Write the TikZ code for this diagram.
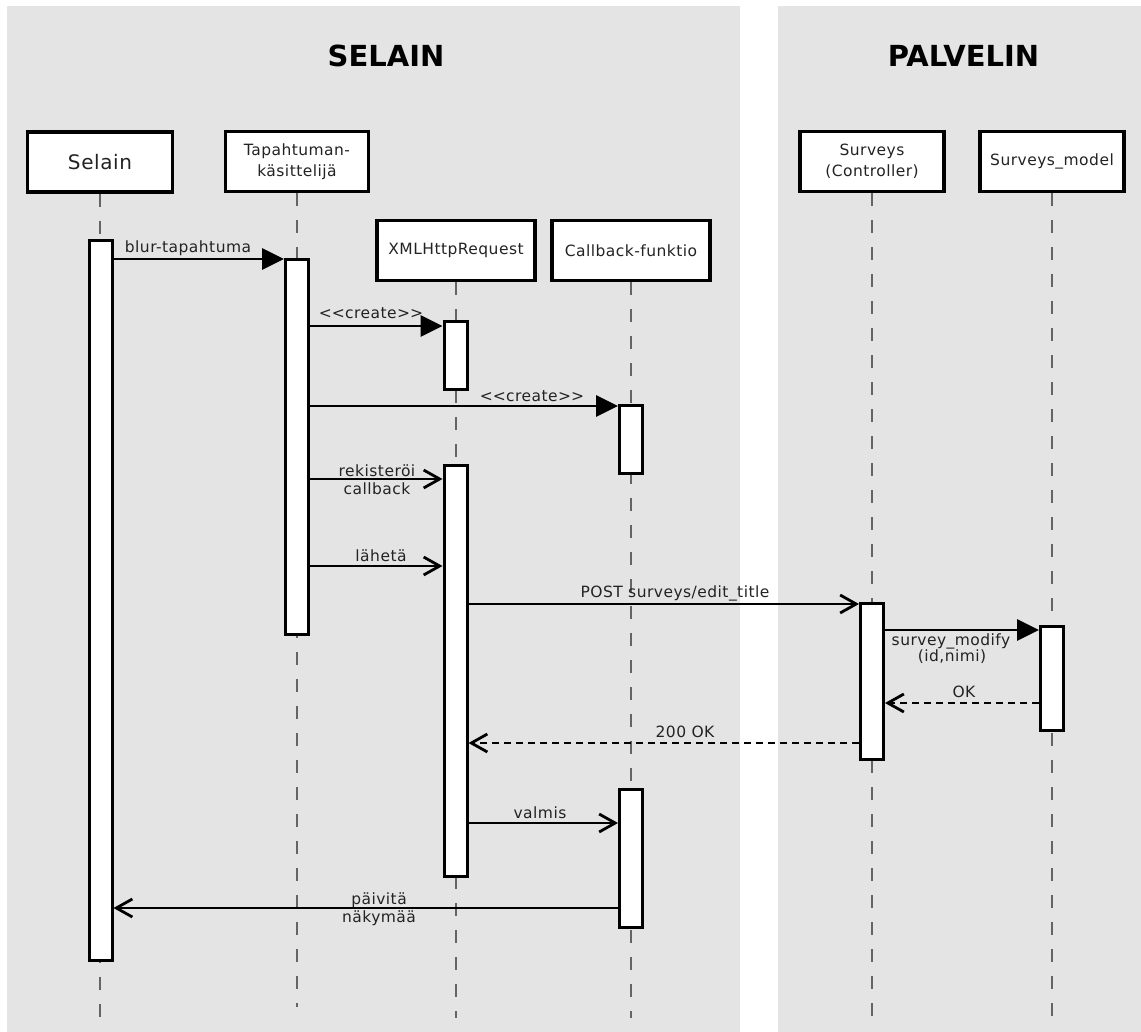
\documentclass[tikz,border=0pt]{standalone}
\usepackage{fontspec}
\setmainfont{DejaVu Sans}
\newfontfamily\lblfont{DejaVu Sans}[LetterSpace=3]
\usetikzlibrary{arrows.meta}
\definecolor{bg}{RGB}{228,228,228}
\definecolor{lifegray}{RGB}{100,100,100}
\definecolor{txt}{RGB}{35,35,35}
\begin{document}
\begin{tikzpicture}[x=1bp,y=-1bp,
 head/.style={draw=black, line width=3.4bp, fill=white, minimum height=60bp, align=center,
   font=\lblfont\fontsize{15.5bp}{21bp}\selectfont, text=txt, inner sep=0pt},
 act/.style={draw=black, line width=3bp, fill=white, minimum width=23bp, inner sep=0pt},
 life/.style={draw=lifegray, line width=2bp, dash pattern=on 13bp off 14bp},
 call/.style={line width=2.8bp, -{Triangle[length=22bp,width=21bp]}},
 msg/.style={line width=2.8bp, -{Straight Barb[length=16bp,width=18bp,line width=2.8bp]}},
 ret/.style={msg, dash pattern=on 7bp off 5bp},
 lbl/.style={font=\lblfont\fontsize{15.5bp}{18bp}\selectfont, text=txt, inner sep=0pt, anchor=base},
 ttl/.style={font=\bfseries\fontsize{29bp}{34bp}\selectfont, text=black, inner sep=0pt, anchor=base}]
\fill[white] (0,0) rectangle (1141,1032);
\useasboundingbox (0,0) rectangle (1141,1032);
\fill[bg] (7,6) rectangle (740,1032);
\fill[bg] (778,6) rectangle (1141,1032);
\node[ttl] (tsel) at (386,66) {SELAIN};
\node[ttl] (tpal) at (963.5,66) {PALVELIN};
% heads
\node[head, minimum width=145bp, font=\lblfont\fontsize{20bp}{21bp}\selectfont] (selain) at (100,162) {Selain};
\node[head, minimum width=143bp] (tap) at (297,161.5) {Tapahtuman-\\käsittelijä};
\node[head, minimum width=158bp] (xhr) at (456,250.5) {XMLHttpRequest};
\node[head, minimum width=158bp] (cb) at (631,250.5) {Callback-funktio};
\node[head, minimum width=144bp] (srv) at (872,161.5) {Surveys\\(Controller)};
\node[head, minimum width=144bp] (mod) at (1052,161.5) {Surveys\_model};
% lifeline ends
\coordinate (selainE) at (100,1018);
\coordinate (tapE) at (297,1007);
\coordinate (xhrE) at (456,1018);
\coordinate (cbE) at (631,1018);
\coordinate (srvE) at (872,1018);
\coordinate (modE) at (1052,1018);
\draw[life] (selain.south) -- (selainE);
\draw[life] (tap.south) -- (tapE);
\draw[life] (xhr.south) -- (xhrE);
\draw[life] (cb.south) -- (cbE);
\draw[life] (srv.south) -- (srvE);
\draw[life] (mod.south) -- (modE);
% activation bars
\node[act, minimum height=720bp] (selB) at (100.5,600) {};
\node[act, minimum height=375bp] (tapB) at (297,446.5) {};
\node[act, minimum height=68bp] (xhrB1) at (455.5,355) {};
\node[act, minimum height=68bp] (cbB1) at (631,439) {};
\node[act, minimum height=411bp] (xhrB2) at (455.5,670.5) {};
\node[act, minimum height=138bp] (cbB2) at (631,858) {};
\node[act, minimum height=156bp] (srvB) at (872,681) {};
\node[act, minimum height=104bp] (modB) at (1052,678) {};
% messages
\draw[call] (selB.east |- 0,259) -- (tapB.west |- 0,259);
\draw[call] (tapB.east |- 0,326) -- (xhrB1.west |- 0,326);
\draw[call] (tapB.east |- 0,406) -- (cbB1.west |- 0,406);
\draw[msg] (tapB.east |- 0,479) -- (xhrB2.west |- 0,479);
\draw[msg] (tapB.east |- 0,566) -- (xhrB2.west |- 0,566);
\draw[msg] (xhrB2.east |- 0,604) -- (srvB.west |- 0,604);
\draw[call] (srvB.east |- 0,630) -- (modB.west |- 0,630);
\draw[ret] (modB.west |- 0,703) -- (srvB.east |- 0,703);
\draw[ret] (srvB.west |- 0,743) -- (xhrB2.east |- 0,743);
\draw[msg] (xhrB2.east |- 0,823) -- (cbB2.west |- 0,823);
\draw[msg] (cbB2.west |- 0,908) -- (selB.east |- 0,908);
% labels
\node[lbl] (l1) at (188,252) {blur-tapahtuma};
\node[lbl] (l2) at (371,318) {<\kern0pt<create>\kern0pt>};
\node[lbl] (l3) at (532,401) {<\kern0pt<create>\kern0pt>};
\node[lbl] (l4a) at (377,476) {rekisteröi};
\node[lbl] (l4b) at (377,494) {callback};
\node[lbl] (l5) at (381,561) {lähetä};
\node[lbl] (l6) at (675,597) {POST surveys/edit\_title};
\node[lbl] (l7a) at (951,645) {survey\_modify};
\node[lbl] (l7b) at (952,661) {(id,nimi)};
\node[lbl] (l8) at (964,697) {OK};
\node[lbl] (l9) at (685,737) {200 OK};
\node[lbl] (l10) at (540,818) {valmis};
\node[lbl] (l11a) at (379,904) {päivitä};
\node[lbl] (l11b) at (379,922) {näkymää};
\end{tikzpicture}
\end{document}
